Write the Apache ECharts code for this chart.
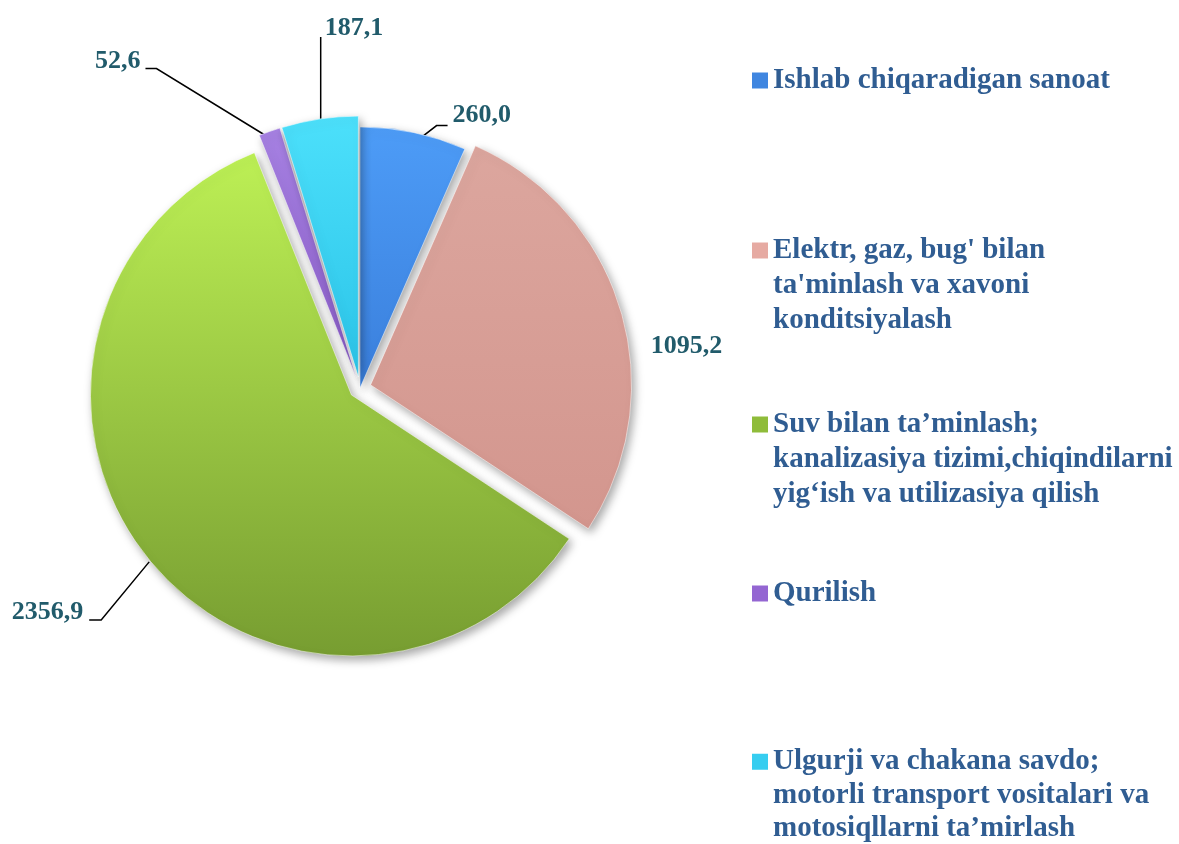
<!DOCTYPE html>
<html>
<head>
<meta charset="utf-8">
<script src="https://cdn.jsdelivr.net/npm/echarts@6/dist/echarts.min.js"></script>
<style>
  html, body { margin: 0; padding: 0; background: #fff; }
  #chart { width: 1179px; height: 844px; }
</style>
</head>
<body>
<div id="chart"></div>
<script>
// sectors, in drawing order (clockwise from 12 o'clock)
const names = [
  'Ishlab chiqaradigan sanoat',
  "Elektr, gaz, bug' bilan\nta'minlash va xavoni\nkonditsiyalash",
  'Suv bilan ta’minlash;\nkanalizasiya tizimi,chiqindilarni\nyig‘ish va utilizasiya qilish',
  'Qurilish',
  'Ulgurji va chakana savdo;\nmotorli transport vositalari va\nmotosiqllarni ta’mirlash'
];
const values = [260.0, 1095.2, 2356.9, 52.6, 187.1];

// flat colours for legend keys, gradient pairs for slices
const keyColors = ['#3f86e0', '#e6aaa2', '#8fbc3a', '#9466d2', '#36cdf0'];
const sliceColors = [
  ['#4d9cf7', '#3a7fdc'],
  ['#dca69e', '#d3968e'],
  ['#bdf055', '#779d31'],
  ['#a681e2', '#8a5cc8'],
  ['#4ce0fb', '#2bc4e8']
];
const legendTops = [63, 163, 337, 576, 678];
const legendLineHeights = [35, 35, 35, 35, 33.5];

const chart = echarts.init(document.getElementById('chart'));

function fmt(v) {
  return v.toFixed(1).replace('.', ',');
}

const seriesData = names.map((n, i) => ({
  name: n,
  value: values[i],
  selected: i !== 0,
  itemStyle: {
    color: new echarts.graphic.LinearGradient(0, 0, 0, 1, [
      { offset: 0, color: sliceColors[i][0] },
      { offset: 1, color: sliceColors[i][1] }
    ])
  },
  labelLine: i === 1 ? { show: false, length: 4, length2: 0 } : { length: 12, length2: 12 }
}));

// multi-line entries get two blank lines in front so the key sits by the first line
const legends = names.map((n, i) => ({
  left: 752,
  top: legendTops[i],
  padding: 0,
  orient: 'vertical',
  selectedMode: false,
  itemWidth: 16,
  itemHeight: 16,
  icon: 'rect',
  data: [{ name: n, itemStyle: { color: keyColors[i], borderWidth: 0 } }],
  formatter: name => (name.indexOf('\n') >= 0 ? '\n\n' + name : name),
  textStyle: {
    fontFamily: 'Liberation Serif',
    fontWeight: 'bold',
    fontSize: 29,
    lineHeight: legendLineHeights[i],
    color: '#305d92'
  }
}));

// move a label so that its left/right edge and middle land on the given spot
function place(rect, side, x, y) {
  const dx = side === 'left' ? x - rect.x : x - (rect.x + rect.width);
  const dy = y - (rect.y + rect.height / 2);
  return { dx: dx, dy: dy };
}

chart.setOption({
  animation: false,
  legend: legends,
  series: [{
    type: 'pie',
    center: [360, 388],
    radius: 261,
    startAngle: 90,
    clockwise: true,
    selectedMode: 'multiple',
    selectedOffset: 11,
    avoidLabelOverlap: false,
    itemStyle: {
      borderColor: 'rgba(255,255,255,0.5)',
      borderWidth: 1,
      shadowBlur: 10,
      shadowColor: 'rgba(0,0,0,0.35)',
      shadowOffsetX: 3,
      shadowOffsetY: 4
    },
    emphasis: { disabled: true },
    label: {
      show: true,
      position: 'outside',
      formatter: p => fmt(p.value),
      fontFamily: 'Liberation Serif',
      fontWeight: 'bold',
      fontSize: 26,
      color: '#215b6b',
      distanceToLabelLine: 4
    },
    labelLine: {
      show: true,
      lineStyle: { color: '#000', width: 1.5 }
    },
    labelLayout: function (p) {
      const pts = p.labelLinePoints;
      const r = p.labelRect;
      if (!pts) return {};
      const e = pts[0];
      let start, bend, end, out;
      switch (p.dataIndex) {
        case 0:
          start = [e[0] + 1, e[1] + 10];
          bend = [start[0] + 22, start[1] - 17];
          end = [bend[0] + 11, bend[1]];
          out = place(r, 'left', end[0] + 5, bend[1] - 10);
          out.labelLinePoints = [start, bend, end];
          return out;
        case 1:
          return { dx: 22, dy: 36 };
        case 2:
          start = [e[0], e[1] + 2];
          bend = [start[0] - 48, start[1] + 58];
          end = [bend[0] - 12, bend[1]];
          out = place(r, 'right', end[0] - 6, bend[1] - 8);
          out.labelLinePoints = [start, bend, end];
          return out;
        case 3:
          start = [e[0] + 1, e[1] + 7];
          bend = [e[0] - 113, e[1] - 63];
          end = [bend[0] - 11, bend[1]];
          out = place(r, 'right', end[0] - 5, end[1] - 7);
          out.labelLinePoints = [start, bend, end];
          return out;
        case 4:
          start = [e[0] + 1, e[1] + 8];
          bend = [start[0], start[1] - 90];
          out = place(r, 'left', bend[0] + 4, bend[1] - 9);
          out.labelLinePoints = [start, bend, bend];
          return out;
      }
      return {};
    },
    data: seriesData
  }]
});
</script>
</body>
</html>
